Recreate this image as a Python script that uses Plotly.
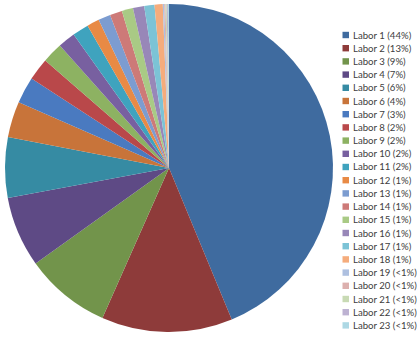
import plotly.graph_objects as go

W, H = 420, 339

labels = [f"Labor {i}" for i in range(1, 24)]
values = [43.4, 12.8, 8.4, 6.9, 5.9, 3.5, 2.6, 2.2, 2.0, 1.7, 1.6, 1.2,
          1.2, 1.2, 1.1, 1.1, 1.0, 0.8, 0.14, 0.12, 0.12, 0.11, 0.11]
pct_labels = ["44%", "13%", "9%", "7%", "6%", "4%", "3%", "2%", "2%", "2%", "2%",
              "1%", "1%", "1%", "1%", "1%", "1%", "1%",
              "<1%", "<1%", "<1%", "<1%", "<1%"]
colors = ["#3F6B9F", "#8E3B3A", "#72944B", "#5E4A85", "#368BA3", "#C8743A",
          "#4A7AC0", "#B9484A", "#8DB262", "#7860A0", "#3FA3BE", "#E88A45",
          "#7C9CD0", "#CD7A78", "#A9CA85", "#9887B8", "#7CC3D6", "#F5AC7C",
          "#AEC0E0", "#DCB0AE", "#C8DAB4", "#BDB2D2", "#ADD8E4"]

fig = go.Figure()
fig.add_trace(go.Pie(
    labels=labels, values=values, sort=False, direction="clockwise",
    rotation=0, textinfo="none", hoverinfo="label+percent",
    marker=dict(colors=colors, line=dict(width=0)),
    domain=dict(x=[5 / W, 333 / W], y=[(H - 332) / H, (H - 4) / H]),
    showlegend=False,
))

# custom compact legend
y0, dy = 35, 13.2
shapes, annotations = [], []
for i, (lab, pct, col) in enumerate(zip(labels, pct_labels, colors)):
    yc = y0 + dy * i
    shapes.append(dict(type="rect", xref="paper", yref="paper",
                       x0=342.5 / W, x1=349 / W,
                       y0=1 - (yc + 3.2) / H, y1=1 - (yc - 3.2) / H,
                       fillcolor=col, line=dict(width=0)))
    annotations.append(dict(text=f"{lab} ({pct})", xref="paper", yref="paper",
                            x=351 / W, y=1 - yc / H, xanchor="left", yanchor="middle",
                            showarrow=False, font=dict(size=9.6, color="#404040",
                                                       family="Lato")))

fig.update_layout(width=W, height=H, margin=dict(l=0, r=0, t=0, b=0),
                  paper_bgcolor="white", plot_bgcolor="white",
                  shapes=shapes, annotations=annotations)
fig.write_html("out.html")
